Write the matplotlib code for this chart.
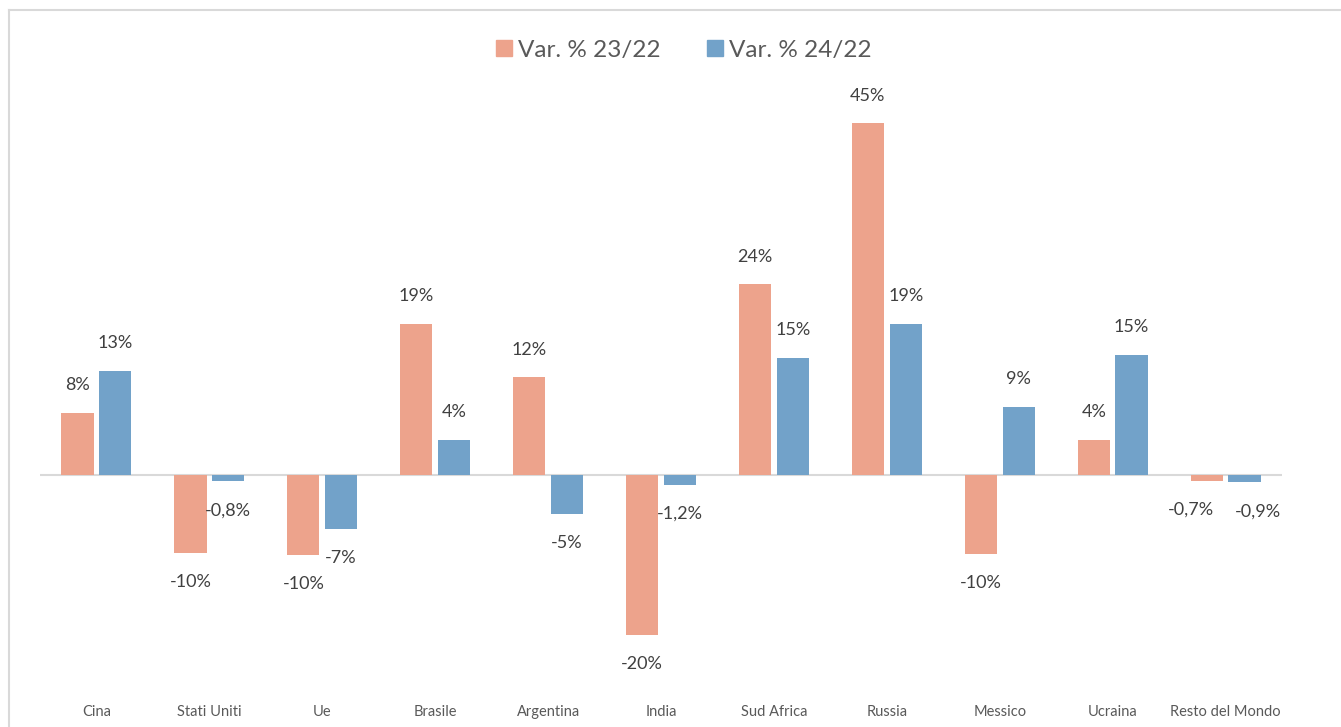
import matplotlib
matplotlib.use("Agg")
import matplotlib.pyplot as plt
import numpy as np
from matplotlib.lines import Line2D

# --- data ---
countries = ["Cina", "Stati Uniti", "Ue", "Brasile", "Argentina", "India",
             "Sud Africa", "Russia", "Messico", "Ucraina", "Resto del Mondo"]
var_23_22 = [8.0, -10.0, -10.2, 19.4, 12.5, -20.4, 24.4, 45.0, -10.1, 4.5, -0.7]
var_24_22 = [13.3, -0.8, -6.9, 4.5, -5.0, -1.2, 15.0, 19.4, 8.7, 15.4, -0.9]
series_names = ["Var. % 23/22", "Var. % 24/22"]

c_orange = "#EDA38C"
c_blue = "#72A2C9"
txt_dark = "#404040"
txt_gray = "#595959"

plt.rcParams["font.family"] = ["Lato", "DejaVu Sans"]


def fmt(v):
    # small values carry one decimal (Italian comma), others rounded
    if abs(v) < 2:
        return f"{v:.1f}%".replace(".", ",")
    return f"{round(v):.0f}%"


fig = plt.figure(figsize=(13.41, 7.27), dpi=100)
W, H = 1341, 727
ax = fig.add_axes([40 / W, 1 - 694 / H, (1282 - 40) / W, (694 - 100) / H])

x = np.arange(len(countries))
bw = 0.285
gap = 0.025
off = bw / 2 + gap

b1 = ax.bar(x - off, var_23_22, bw, color=c_orange, zorder=2)
b2 = ax.bar(x + off, var_24_22, bw, color=c_blue, zorder=2)

# labels of the last group are pushed apart so they don't collide
last = len(countries) - 1
for k, (bars, vals) in enumerate(((b1, var_23_22), (b2, var_24_22))):
    for i, (rect, v) in enumerate(zip(bars, vals)):
        cx = rect.get_x() + rect.get_width() / 2
        dy = 20 if v > 0 else -21
        dx = 0
        if i == last:
            dx = -11 if k == 0 else 10
        ax.annotate(fmt(v), (cx, v), xytext=(dx, dy), textcoords="offset points",
                    ha="center", va="center", fontsize=13, color=txt_dark)

ax.axhline(0, color="#D9D9D9", lw=1.5, zorder=1)
ax.set_xlim(-0.5, len(countries) - 0.5)
ax.set_ylim(-28, 48)
ax.set_yticks([])
ax.set_xticks(x)
ax.set_xticklabels(countries, fontsize=10.5, color=txt_gray)
ax.tick_params(axis="x", length=0, pad=8)
for s in ax.spines.values():
    s.set_visible(False)

# legend
handles = [Line2D([], [], marker="s", ls="", markersize=12, color=c_orange),
           Line2D([], [], marker="s", ls="", markersize=12, color=c_blue)]
fig.legend(handles, series_names, loc="center", bbox_to_anchor=(683 / W, 1 - 50 / H),
           ncol=2, frameon=False, fontsize=17.5, labelcolor=txt_gray,
           handletextpad=0.2, columnspacing=1.8, handlelength=0.8)

# outer frame (cut at right and bottom)
fig.add_artist(Line2D([9 / W, 9 / W], [0, 1 - 10 / H], color="#D9D9D9", lw=1.5,
                      transform=fig.transFigure))
fig.add_artist(Line2D([9 / W, 1], [1 - 10 / H, 1 - 10 / H], color="#D9D9D9", lw=1.5,
                      transform=fig.transFigure))

fig.savefig("out.png", dpi=100, facecolor="white")
